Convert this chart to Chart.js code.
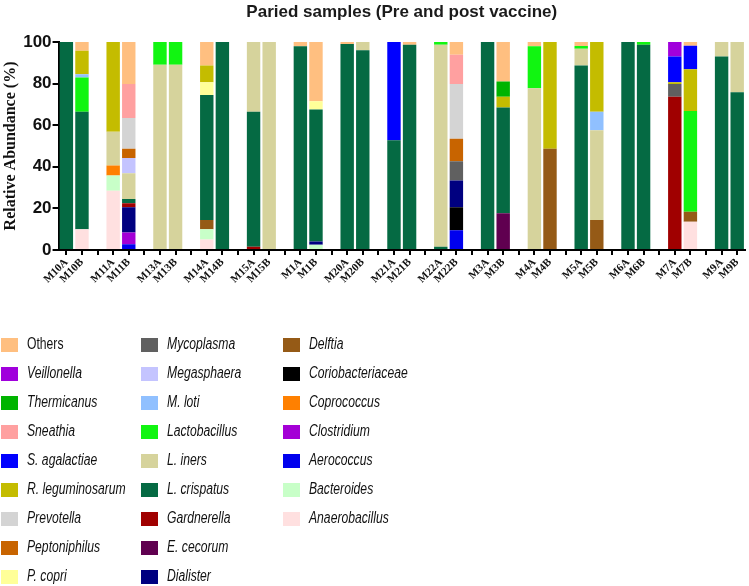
<!DOCTYPE html>
<html>
<head>
<meta charset="utf-8">
<script src="https://cdn.jsdelivr.net/npm/chart.js@4.4.0/dist/chart.umd.min.js"></script>
<style>
  html, body { margin: 0; padding: 0; background: #ffffff; }
  #wrap { width: 749px; height: 586px; position: relative; }
</style>
</head>
<body>
<div id="wrap"><canvas id="c" width="749" height="586"></canvas></div>
<script>
// Samples (pairs: pre = A, post = B)
const samples = ['M10A','M10B','M11A','M11B','M13A','M13B','M14A','M14B','M15A','M15B',
  'M1A','M1B','M20A','M20B','M21A','M21B','M22A','M22B','M3A','M3B',
  'M4A','M4B','M5A','M5B','M6A','M6B','M7A','M7B','M9A','M9B'];

// Relative abundance (%) per taxon, in sample order above (stack bottom -> top)
const anaerobacillus   = [0,10,28.5,0,0,0,5,0,0,0, 0,0,0,0,0,0,0,0,0,0, 0,0,0,0,0,0,0,13.5,0,0];
const bacteroides      = [0,0,7.3,0,0,0,5,0,0,0, 0,2.5,0,0,0,0,0,0,0,0, 0,0,0,0,0,0,0,0,0,0];
const aerococcus       = [0,0,0,2.7,0,0,0,0,0,0, 0,0,0,0,0,0,0,9.5,0,0, 0,0,0,0,0,0,0,0,0,0];
const clostridium      = [0,0,0,5.7,0,0,0,0,0,0, 0,0,0,0,0,0,0,0,0,0, 0,0,0,0,0,0,0,0,0,0];
const coprococcus      = [0,0,4.8,0,0,0,0,0,0,0, 0,0,0,0,0,0,0,0,0,0, 0,0,0,0,0,0,0,0,0,0];
const coriobacteriaceae= [0,0,0,0,0,0,0,0,0,0, 0,0,0,0,0,0,0,11,0,0, 0,0,0,0,0,0,0,0,0,0];
const delftia          = [0,0,0,0,0,0,4.4,0,0,0, 0,0,0,0,0,0,0,0,0,0, 0,48.7,0,14.4,0,0,0,4.9,0,0];
const dialister        = [0,0,0,12.1,0,0,0,0,0,0, 0,1.5,0,0,0,0,0,12.9,0,0, 0,0,0,0,0,0,0,0,0,0];
const eCecorum         = [0,0,0,0,0,0,0,0,0,0, 0,0,0,0,0,0,0,0,0,17.6, 0,0,0,0,0,0,0,0,0,0];
const gardnerella      = [0,0,0,1.9,0,0,0,0,1.5,0, 0,0,0,0,0,0,0,0,0,0, 0,0,0,0,0,0,73.7,0,0,0];
const lCrispatus       = [100,56.5,0,2.1,0,0,60.1,100,65,0, 97.9,63.5,99,96,52.7,98.7,1.5,0,100,50.9, 0,0,88.7,0,100,98.7,0,0,93,75.8];
const lIners           = [0,0,16.2,12.4,89,89,0,0,33.5,100, 0,0,0,4,0,0,97.2,0,0,0, 77.7,0,8.1,43.2,0,0,0,0,7,24.2];
const lactobacillus    = [0,16.4,0,0,11,11,0,0,0,0, 0,0,0,0,0,0,1.3,0,0,0, 20.2,0,1.3,0,0,1.3,0,48.4,0,0];
const mLoti            = [0,1.6,0,0,0,0,0,0,0,0, 0,0,0,0,0,0,0,0,0,0, 0,0,0,8.9,0,0,0,0,0,0];
const megasphaera      = [0,0,0,7.3,0,0,0,0,0,0, 0,0,0,0,0,0,0,0,0,0, 0,0,0,0,0,0,0,0,0,0];
const mycoplasma       = [0,0,0,0,0,0,0,0,0,0, 0,0,0,0,0,0,0,9.3,0,0, 0,0,0,0,0,0,6.1,0,0,0];
const pCopri           = [0,0,0,0,0,0,6.1,0,0,0, 0,4,0,0,0,0,0,0,0,0, 0,0,0,0,0,0,0,0,0,0];
const peptoniphilus    = [0,0,0,4.5,0,0,0,0,0,0, 0,0,0,0,0,0,0,10.8,0,0, 0,0,0,0,0,0,0,0,0,0];
const prevotella       = [0,0,0,14.8,0,0,0,0,0,0, 0,0,0,0,0,0,0,26.3,0,0, 0,0,0,0,0,0,0,0,0,0];
const rLeguminosarum   = [0,11.3,43.2,0,0,0,8.1,0,0,0, 0,0,0,0,0,0,0,0,0,5.2, 0,51.3,0,33.5,0,0,0.8,20.1,0,0];
const sAgalactiae      = [0,0,0,0,0,0,0,0,0,0, 0,0,0,0,47.3,0,0,0,0,0, 0,0,0,0,0,0,12.4,11.3,0,0];
const sneathia         = [0,0,0,16.3,0,0,0,0,0,0, 0,0,0,0,0,0,0,14.1,0,0, 0,0,0,0,0,0,0,0,0,0];
const thermicanus      = [0,0,0,0,0,0,0,0,0,0, 0,0,0,0,0,0,0,0,0,7.3, 0,0,0,0,0,0,0,0,0,0];
const veillonella      = [0,0,0,0,0,0,0,0,0,0, 0,0,0,0,0,0,0,0,0,0, 0,0,0,0,0,0,7,0,0,0];
const others           = [0,4.2,0,20.2,0,0,11.3,0,0,0, 2.1,28.5,1,0,0,1.3,0,6.1,0,19, 2.1,0,1.9,0,0,0,0,1.8,0,0];

const yTicks = [0, 20, 40, 60, 80, 100];

// taxon name, values, colour, italic?  (stack order bottom -> top)
const taxa = [
  ['Anaerobacillus', anaerobacillus, '#ffe0e0', true],
  ['Bacteroides', bacteroides, '#c8ffc8', true],
  ['Aerococcus', aerococcus, '#0000ee', true],
  ['Clostridium', clostridium, '#a400d6', true],
  ['Coprococcus', coprococcus, '#ff8000', true],
  ['Coriobacteriaceae', coriobacteriaceae, '#000000', true],
  ['Delftia', delftia, '#955a16', true],
  ['Dialister', dialister, '#000080', true],
  ['E. cecorum', eCecorum, '#600050', true],
  ['Gardnerella', gardnerella, '#a00000', true],
  ['L. crispatus', lCrispatus, '#056a43', true],
  ['L. iners', lIners, '#d6d39c', true],
  ['Lactobacillus', lactobacillus, '#11f511', true],
  ['M. loti', mLoti, '#90c0ff', true],
  ['Megasphaera', megasphaera, '#c4c4ff', true],
  ['Mycoplasma', mycoplasma, '#606060', true],
  ['P. copri', pCopri, '#ffff99', true],
  ['Peptoniphilus', peptoniphilus, '#c86400', true],
  ['Prevotella', prevotella, '#d4d4d4', true],
  ['R. leguminosarum', rLeguminosarum, '#c4bc00', true],
  ['S. agalactiae', sAgalactiae, '#0000ff', true],
  ['Sneathia', sneathia, '#ffa0a0', true],
  ['Thermicanus', thermicanus, '#00b400', true],
  ['Veillonella', veillonella, '#a000dc', true],
  ['Others', others, '#ffbf80', false]
];

// insert an empty slot after each pair
const labels = [];
const slotIndex = [];
samples.forEach((s, i) => {
  labels.push(s); slotIndex.push(i);
  if (i % 2 === 1 && i < samples.length - 1) { labels.push(''); slotIndex.push(-1); }
});

const datasets = taxa.map(([name, vals, color, italic]) => ({
  label: name,
  data: slotIndex.map(k => k < 0 ? null : (vals[k] || null)),
  backgroundColor: color,
  borderWidth: 0,
  italic: italic,
  categoryPercentage: 1.0,
  barPercentage: 0.86
}));

const TITLE = 'Paried samples (Pre and post vaccine)';

const decor = {
  id: 'decor',
  afterDraw(chart) {
    const ctx = chart.ctx;
    const ca = chart.chartArea;
    ctx.save();
    // title
    ctx.fillStyle = '#1a1a1a';
    ctx.font = 'bold 17px "Liberation Sans", Arial, sans-serif';
    ctx.textAlign = 'center';
    ctx.textBaseline = 'middle';
    ctx.fillText(TITLE, (ca.left + ca.right) / 2, 12);
    // legend: three columns, top of stack first
    const items = chart.data.datasets.slice().reverse();
    const colX = [1, 141, 283];
    const perCol = 9;
    const y0 = 345, dy = 29;
    items.forEach((ds, i) => {
      const col = Math.floor(i / perCol);
      const row = i % perCol;
      const x = colX[col];
      const y = y0 + row * dy;
      ctx.fillStyle = ds.backgroundColor;
      ctx.fillRect(x, y - 7, 17, 14);
      ctx.fillStyle = '#111111';
      ctx.font = (ds.italic ? 'italic ' : '') + '16px "Liberation Sans", Arial, sans-serif';
      ctx.textAlign = 'left';
      ctx.textBaseline = 'middle';
      ctx.save();
      ctx.translate(x + 26, y);
      ctx.scale(0.76, 1);
      ctx.fillText(ds.label, 0, 0);
      ctx.restore();
    });
    ctx.restore();
  }
};

new Chart(document.getElementById('c'), {
  type: 'bar',
  data: { labels, datasets },
  plugins: [decor],
  options: {
    responsive: false,
    animation: false,
    layout: { padding: { top: 42, left: 1, right: 4, bottom: 299 } },
    plugins: {
      legend: { display: false },
      title: { display: false },
      tooltip: { enabled: false }
    },
    scales: {
      x: {
        stacked: true,
        grid: { offset: false, drawOnChartArea: false, drawTicks: true, tickLength: 5, color: '#000', lineWidth: 2 },
        border: { display: true, color: '#000', width: 2 },
        ticks: {
          autoSkip: false, minRotation: 45, maxRotation: 45, padding: 1,
          color: '#111',
          font: { family: '"Liberation Serif", "Times New Roman", serif', weight: 'bold', size: 11 }
        }
      },
      y: {
        stacked: true,
        min: 0, max: 100,
        afterBuildTicks(axis) { axis.ticks = yTicks.map(v => ({ value: v })); },
        grid: { drawOnChartArea: false, drawTicks: true, tickLength: 6, color: '#000', lineWidth: 2 },
        border: { display: true, color: '#000', width: 2 },
        ticks: {
          padding: 1, color: '#111',
          font: { family: '"Liberation Sans", Arial, sans-serif', weight: 'bold', size: 17 }
        },
        title: {
          display: true, text: 'Relative Abundance (%)', color: '#111',
          padding: { top: 0, bottom: 2 },
          font: { family: '"Liberation Serif", "Times New Roman", serif', weight: 'bold', size: 16 }
        }
      }
    }
  }
});
</script>
</body>
</html>
